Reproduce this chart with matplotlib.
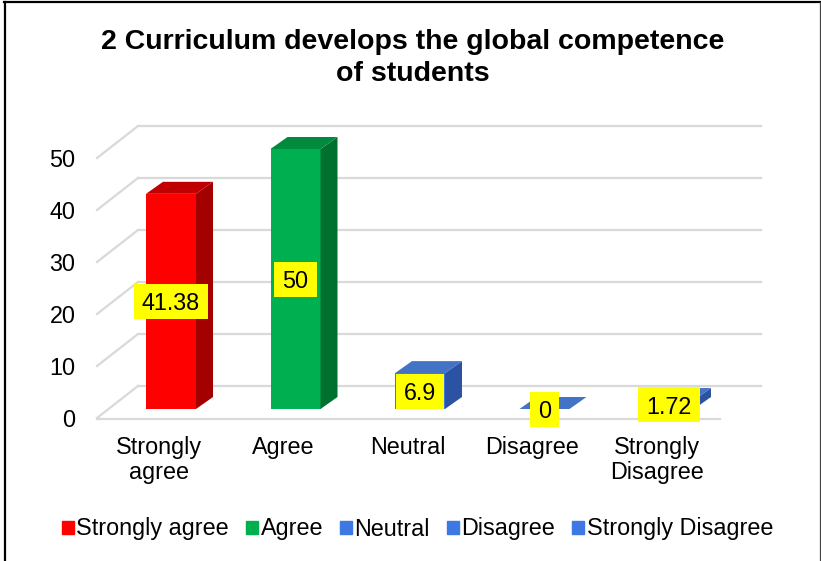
import matplotlib
matplotlib.use("Agg")
import matplotlib.pyplot as plt
from matplotlib.patches import Patch, Rectangle
from matplotlib.lines import Line2D

categories = ["Strongly agree", "Agree", "Neutral", "Disagree", "Strongly Disagree"]
tick_labels = ["Strongly\nagree", "Agree", "Neutral", "Disagree", "Strongly\nDisagree"]
values = [41.38, 50, 6.9, 0, 1.72]
value_labels = ["41.38", "50", "6.9", "0", "1.72"]
yticks = [0, 10, 20, 30, 40, 50]
front = ["#ff0000", "#00b050", "#3d78e3", "#3d78e3", "#3d78e3"]
side = ["#a30000", "#00702f", "#2c53a3", "#2c53a3", "#2c53a3"]
top = ["#c00000", "#008a3e", "#4472c4", "#4472c4", "#4472c4"]
legend_colors = ["#ff0000", "#00b050", "#3d78e3", "#3d78e3", "#3d78e3"]

plt.rcParams["font.family"] = "Liberation Sans"
W, H = 821, 561
FS = 16.8
fig = plt.figure(figsize=(W / 100, H / 100), dpi=100, facecolor="white")
L, R, T, B = 97, 720, 158, 418
ax = fig.add_axes([L / W, 1 - B / H, (R - L) / W, (B - T) / H])
PX = 124.5
ax.set_xlim((L - 171) / PX, (R - 171) / PX)
ax.set_ylim(0, 50)
PY = 260 / 50
px = lambda p: p / PX
py = lambda p: p / PY
for s in ax.spines.values():
    s.set_visible(False)
ax.patch.set_visible(False)

# 3D wall/floor grid
GDX, GDY = px(41), py(32)
x0, x1 = ax.get_xlim()
for t in yticks:
    ax.plot([x0, x0 + GDX], [t, t + GDY], color="#d9d9d9", lw=1.6, clip_on=False, zorder=1)
    ax.plot([x0 + GDX, x1 + GDX], [t + GDY, t + GDY], color="#d9d9d9", lw=1.6, clip_on=False, zorder=1)
ax.plot([x0, x1], [-py(1), -py(1)], color="#d9d9d9", lw=1.6, clip_on=False, zorder=1)

# 3D bars
BASE = py(9)
BW = px(50)
DX, DY = px(17), py(12)
renderer = fig.canvas.get_renderer()
for i, v in enumerate(values):
    l, r, b, t = i - BW / 2, i + BW / 2, BASE, BASE + v
    ax.bar(i, v, BW, bottom=BASE, color=front[i], clip_on=False, zorder=3)
    ax.fill([r, r + DX, r + DX, r], [b, b + DY, t + DY, t], color=side[i], lw=0, clip_on=False, zorder=3)
    ax.fill([l, r, r + DX, l + DX], [t, t, t + DY, t + DY], color=top[i], lw=0, clip_on=False, zorder=3)
    lab = ax.text(i, b + v / 2, value_labels[i], ha="center", va="center_baseline", fontsize=FS,
                  color="black", zorder=5, clip_on=False)
    bw = px(lab.get_window_extent(renderer).width + 16)
    bh = py(35)
    ax.add_patch(Rectangle((i - bw / 2, b + v / 2 - bh / 2), bw, bh, fc="#ffff00", ec="none",
                           clip_on=False, zorder=4))

ax.set_yticks(yticks)
ax.set_yticklabels([str(t) for t in yticks], fontsize=FS, va="center_baseline")
ax.set_xticks([i - px(12.5) for i in range(len(categories))])
ax.set_xticklabels(tick_labels, fontsize=FS, linespacing=1.13)
ax.tick_params(axis="both", length=0)
ax.tick_params(axis="y", pad=15.5)
ax.tick_params(axis="x", pad=13)

fig.text(412.5 / W, 1 - 58 / H, "2 Curriculum develops the global competence\nof students",
         ha="center", va="center", fontsize=20.5, fontweight="bold", linespacing=1.3)

handles = [Patch(color=c) for c in legend_colors]
fig.legend(handles, categories, loc="center", bbox_to_anchor=(417.5 / W, 1 - 529 / H), ncol=5, frameon=False,
           fontsize=FS, handlelength=0.5, handleheight=0.5, handletextpad=0.12, columnspacing=0.73,
           borderpad=0, borderaxespad=0)

# outer frame: left and top heavy, right thin, no bottom
fig.add_artist(Line2D([4.5 / W, 4.5 / W], [0, 1 - 2 / H], color="black", lw=1.6))
fig.add_artist(Line2D([3.5 / W, 819.5 / W], [1 - 2 / H, 1 - 2 / H], color="black", lw=1.6))
fig.add_artist(Line2D([819.5 / W, 819.5 / W], [0, 1 - 2 / H], color="#444444", lw=0.9))
fig.savefig("out.png", dpi=100)
